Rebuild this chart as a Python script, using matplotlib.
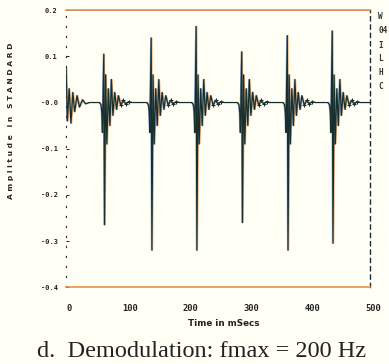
import numpy as np
import matplotlib
matplotlib.use("Agg")
import matplotlib.pyplot as plt
import matplotlib.transforms as mtransforms

# main spike of each pulse (ms) with peak / trough amplitudes
ev_time = [62, 140, 214, 289, 364, 438]
ev_peak = [0.105, 0.140, 0.165, 0.110, 0.145, 0.155]
ev_trough = [-0.265, -0.320, -0.320, -0.260, -0.320, -0.305]

# rounded lead-in before each spike (offset ms, amplitude)
lead_dt = [-7, -4.5, -3.2, -2.2]
lead_amp = [0.0, -0.005, -0.022, -0.065]

# ringing after each spike (offset ms, amplitude)
ring_dt = [3, 5, 7.5, 10, 12.5, 15, 18, 21, 24]
ring_amp = [0.060, -0.090, 0.030, -0.050, 0.050, -0.028, 0.022, -0.015, 0.015]

# quiet tail drawn with '+' marks
tail_dt = [28, 32, 36, 41, 46]
tail_amp = [-0.006, 0.005, -0.003, 0.002, 0.0]

# start of the record
start_t = [0, 2, 5, 8, 11, 14, 18, 22, 27, 32, 38]
start_v = [0.075, -0.040, 0.030, -0.045, 0.022, -0.020, 0.015, -0.010,
           0.006, -0.003, 0.0]

end_t = 500

t = list(start_t)
v = list(start_v)
tail_t = []
tail_v = []
for t0, pk, tr in zip(ev_time, ev_peak, ev_trough):
    t += [t0 + d for d in lead_dt]
    v += lead_amp
    t += [t0, t0 + 1.2]
    v += [pk, tr]
    t += [t0 + d for d in ring_dt]
    v += ring_amp
    t += [t0 + d for d in tail_dt]
    v += tail_amp
    tail_t += [t0 + d for d in tail_dt[:-1]]
    tail_v += tail_amp[:-1]
t.append(end_t)
v.append(0.0)

yticks = [0.2, 0.1, 0.0, -0.1, -0.2, -0.3, -0.4]
ylabels = ["0.2", "0.1", "-0.0", "-0.1", "-0.2", "-0.3", "-0.4"]
xticks = [0, 100, 200, 300, 400, 500]

bg = "#fffff6"
fig = plt.figure(figsize=(3.89, 3.64), dpi=100, facecolor=bg)
ax = fig.add_axes([0.170, 0.211, 0.781, 0.761], facecolor=bg)

off_r = mtransforms.ScaledTranslation(0.8 / 100, 0, fig.dpi_scale_trans)
off_l = mtransforms.ScaledTranslation(-0.7 / 100, 0, fig.dpi_scale_trans)
ax.plot(t, v, color="#e8914a", lw=0.7, alpha=0.8, transform=ax.transData + off_r)
ax.plot(t, v, color="#5b86c4", lw=0.6, alpha=0.7, transform=ax.transData + off_l)
ax.plot(t, v, color="#17302e", lw=0.9)
ax.plot(tail_t, tail_v, ls="none", marker="+", ms=3, mew=0.8, color="#17302e")

ax.set_xlim(0, 500)
ax.set_ylim(-0.4, 0.2)

for s in ["top", "bottom"]:
    ax.spines[s].set_color("#e8914a")
    ax.spines[s].set_linewidth(1.2)
ax.axhline(0.2, color="#5b86c4", lw=0.6, alpha=0.8)
ax.axhline(-0.4, color="#5b86c4", lw=0.6, alpha=0.8)
ax.spines["right"].set_linestyle((0, (3, 3)))
ax.spines["right"].set_color("#1e2c3a")
ax.spines["right"].set_linewidth(1.0)
ax.spines["left"].set_linestyle((0, (1, 8)))
ax.spines["left"].set_color("#2a2a2a")
ax.spines["left"].set_linewidth(0.8)

ymono = {"family": "DejaVu Sans Mono", "weight": "bold", "size": 5}
xmono = {"family": "DejaVu Sans Mono", "weight": "bold", "size": 6.3}
ax.set_yticks(yticks)
ax.set_yticklabels(ylabels, fontdict=ymono)
ax.set_xticks(xticks)
ax.set_xticklabels([str(x) for x in xticks], fontdict=xmono)
ax.tick_params(axis="y", direction="in", length=2, width=0.7, pad=6, colors="#222222")
ax.tick_params(axis="x", length=0, pad=12, colors="#222222")
shift = mtransforms.ScaledTranslation(3 / 100, 0, fig.dpi_scale_trans)
for lab in ax.get_xticklabels():
    lab.set_transform(lab.get_transform() + shift)

ax.set_xlabel("Time in mSecs", fontsize=6.3, fontweight="bold", color="#222222")
ax.xaxis.set_label_coords(0.52, -0.115)
ax.set_ylabel("A m p l i t u d e   i n   S T A N D A R D", fontsize=5.4,
              fontweight="bold", color="#222222")
ax.yaxis.set_label_coords(-0.172, 0.60)

# legend text cut off at the right edge
for yy, s in zip([0.955, 0.915, 0.875, 0.838, 0.802, 0.762],
                 ["W", "04", "I", "L", "H", "C"]):
    fig.text(0.972, yy, s, fontsize=5.5, family="DejaVu Sans Mono",
             weight="bold", color="#333333", va="center")

fig.text(0.094, 0.019, "d.  Demodulation: fmax = 200 Hz", fontsize=17.5,
         family="Liberation Serif", color="#222222", va="baseline")

fig.savefig("out.png", dpi=100, facecolor=bg)
